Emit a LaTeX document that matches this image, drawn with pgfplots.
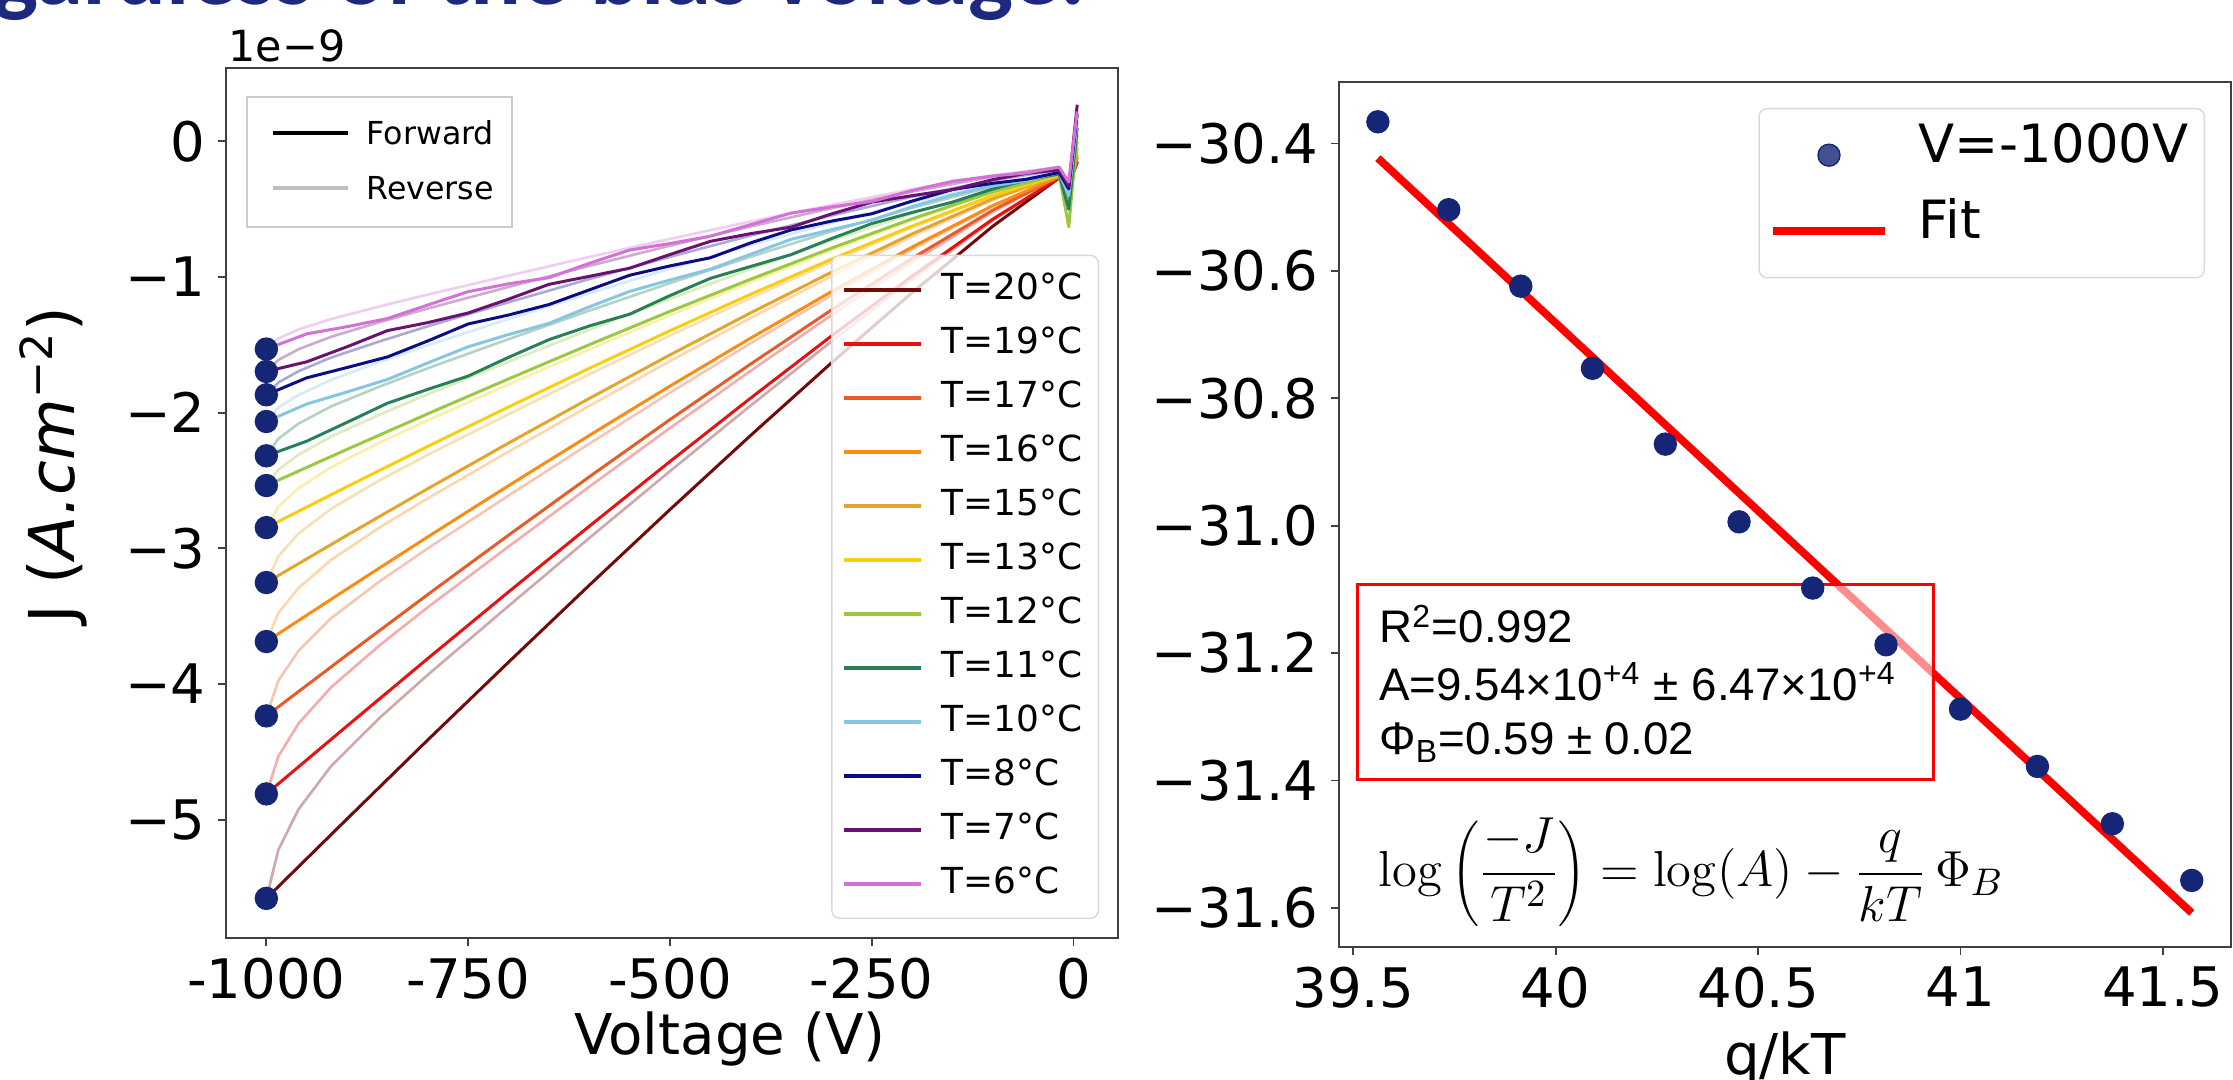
\documentclass[border=0pt]{standalone}
\usepackage[no-math]{fontspec}
\setmainfont{DejaVu Sans}
\newfontfamily\arialf{Liberation Sans}
\newfontfamily\titlef{Carlito}
\usepackage{pgfplots}
\usepackage{pgfplotstable}
\pgfplotsset{compat=1.18}

\definecolor{dotblue}{RGB}{22,38,118}
\definecolor{titleblue}{RGB}{30,40,125}
\definecolor{c20}{RGB}{115,10,10}
\definecolor{c19}{RGB}{228,18,18}
\definecolor{c17}{RGB}{228,92,40}
\definecolor{c16}{RGB}{250,140,20}
\definecolor{c15}{RGB}{228,165,45}
\definecolor{c13}{RGB}{250,205,15}
\definecolor{c12}{RGB}{155,200,65}
\definecolor{c11}{RGB}{40,128,88}
\definecolor{c10}{RGB}{135,198,225}
\definecolor{c8}{RGB}{12,12,135}
\definecolor{c7}{RGB}{105,18,112}
\definecolor{c6}{RGB}{212,112,215}

% forward sweeps, warmer temperatures
\pgfplotstableread{
V f20 f19 f17 f16 f15 f13 f12
-1000 -5.580 -4.810 -4.235 -3.687 -3.252 -2.847 -2.537
-900 -4.994 -4.309 -3.785 -3.299 -2.903 -2.545 -2.270
-800 -4.412 -3.812 -3.340 -2.915 -2.560 -2.248 -2.008
-700 -3.839 -3.321 -2.903 -2.538 -2.224 -1.958 -1.751
-600 -3.272 -2.837 -2.473 -2.168 -1.895 -1.673 -1.499
-500 -2.714 -2.360 -2.051 -1.804 -1.574 -1.396 -1.253
-400 -2.167 -1.892 -1.641 -1.450 -1.264 -1.127 -1.016
-300 -1.633 -1.435 -1.243 -1.108 -0.965 -0.869 -0.787
-200 -1.115 -0.993 -0.862 -0.779 -0.682 -0.624 -0.571
-100 -0.625 -0.573 -0.507 -0.473 -0.423 -0.399 -0.372
-18 -0.270 -0.270 -0.260 -0.260 -0.250 -0.250 -0.240
-6 -0.320 -0.340 -0.360 -0.380 -0.420 -0.500 -0.630
4.5 -0.150 -0.150 -0.120 -0.100 -0.050 0.000 0.050
}\fwdwarm

% forward sweeps, colder temperatures
\pgfplotstableread{
V f11 f10 f8 f7 f6
-1000 -2.318 -2.065 -1.868 -1.696 -1.531
-950 -2.210 -1.936 -1.743 -1.625 -1.419
-900 -2.071 -1.847 -1.667 -1.514 -1.366
-850 -1.930 -1.755 -1.589 -1.395 -1.306
-800 -1.828 -1.633 -1.471 -1.336 -1.206
-750 -1.730 -1.514 -1.346 -1.265 -1.108
-700 -1.592 -1.424 -1.280 -1.163 -1.050
-650 -1.462 -1.342 -1.203 -1.054 -1.005
-600 -1.361 -1.220 -1.095 -0.995 -0.899
-550 -1.274 -1.106 -0.987 -0.935 -0.801
-500 -1.137 -1.022 -0.918 -0.834 -0.753
-450 -1.010 -0.942 -0.858 -0.737 -0.699
-400 -0.922 -0.832 -0.748 -0.680 -0.614
-350 -0.835 -0.722 -0.653 -0.633 -0.529
-300 -0.717 -0.651 -0.588 -0.535 -0.483
-250 -0.606 -0.581 -0.534 -0.448 -0.443
-200 -0.524 -0.481 -0.440 -0.400 -0.362
-150 -0.448 -0.395 -0.355 -0.356 -0.294
-100 -0.351 -0.328 -0.309 -0.282 -0.255
-59 -0.286 -0.289 -0.280 -0.236 -0.233
-18 -0.240 -0.230 -0.230 -0.210 -0.190
-6 -0.500 -0.400 -0.350 -0.330 -0.300
4.5 0.100 0.150 0.200 0.270 0.220
}\fwdcold

% reverse sweeps
\pgfplotstableread{
V r20 r19 r17 r16 r15 r13 r12 r11 r10 r8 r7 r6
-1000 -5.580 -4.810 -4.235 -3.687 -3.252 -2.847 -2.537 -2.318 -2.065 -1.868 -1.696 -1.531
-985 -5.220 -4.531 -3.974 -3.475 -3.057 -2.692 -2.419 -2.191 -1.962 -1.777 -1.611 -1.453
-960 -4.922 -4.290 -3.754 -3.291 -2.890 -2.556 -2.309 -2.080 -1.869 -1.694 -1.532 -1.386
-920 -4.606 -4.025 -3.516 -3.086 -2.709 -2.402 -2.177 -1.954 -1.759 -1.594 -1.441 -1.310
-860 -4.251 -3.716 -3.245 -2.847 -2.499 -2.221 -2.015 -1.808 -1.625 -1.475 -1.333 -1.217
-800 -3.932 -3.434 -3.000 -2.631 -2.310 -2.056 -1.864 -1.672 -1.503 -1.363 -1.232 -1.129
-700 -3.425 -2.987 -2.611 -2.287 -2.011 -1.792 -1.624 -1.458 -1.309 -1.186 -1.073 -0.990
-600 -2.924 -2.546 -2.229 -1.950 -1.717 -1.534 -1.389 -1.248 -1.120 -1.015 -0.918 -0.852
-500 -2.431 -2.113 -1.853 -1.620 -1.432 -1.282 -1.160 -1.045 -0.939 -0.851 -0.769 -0.719
-400 -1.947 -1.691 -1.488 -1.301 -1.154 -1.038 -0.941 -0.850 -0.765 -0.694 -0.627 -0.591
-300 -1.475 -1.281 -1.135 -0.994 -0.888 -0.803 -0.731 -0.664 -0.601 -0.546 -0.493 -0.469
-200 -1.017 -0.888 -0.796 -0.701 -0.636 -0.582 -0.533 -0.490 -0.448 -0.408 -0.370 -0.354
-100 -0.583 -0.520 -0.480 -0.433 -0.404 -0.377 -0.355 -0.333 -0.313 -0.287 -0.260 -0.251
-18 -0.270 -0.260 -0.260 -0.250 -0.250 -0.240 -0.240 -0.230 -0.230 -0.210 -0.190 -0.190
}\revtab

% J at -1000 V for each temperature
\pgfplotstableread{
V J
-1000 -5.580
-1000 -4.810
-1000 -4.235
-1000 -3.687
-1000 -3.252
-1000 -2.847
-1000 -2.537
-1000 -2.318
-1000 -2.065
-1000 -1.868
-1000 -1.696
-1000 -1.531
}\dottab

% Arrhenius-type points at -1000 V
\pgfplotstableread{
x y
39.561 -30.366
39.736 -30.504
39.914 -30.624
40.091 -30.753
40.271 -30.872
40.453 -30.994
40.635 -31.098
40.816 -31.187
41.000 -31.288
41.190 -31.378
41.375 -31.468
41.571 -31.557
}\arrtab

\pgfplotsset{
  mplstyle/.style={
    scale only axis,
    tick align=outside, xtick pos=bottom, ytick pos=left,
    major tick length=0.8mm,
    tick style={black!75, line width=0.5pt},
    axis line style={black!75, line width=0.6pt},
    ticklabel style={font=\fontsize{15.5}{18}\selectfont},
  },
  fwd/.style={line width=0.85pt, line join=round},
  rev/.style={line width=0.75pt, draw opacity=0.35, line join=round, forget plot},
}

\begin{document}
\begin{tikzpicture}

% ---------------- left: J-V sweeps ----------------
\begin{axis}[mplstyle,
  at={(22.6mm,14.2mm)}, anchor=south west,
  width=89.2mm, height=87mm,
  xmin=-1050, xmax=55, ymin=-5.872, ymax=0.541,
  xtick={-1000,-750,-500,-250,0}, xticklabels={-1000,-750,-500,-250,0},
  ytick={-5,-4,-3,-2,-1,0}, yticklabels={−5,−4,−3,−2,−1,0},
  legend cell align=left,
  legend image code/.code={\draw[#1, line width=1.1pt] (0mm,0mm) -- (7.7mm,0mm);},
  legend style={at={(0.9787,0.0218)}, anchor=south east,
    draw=black!15, rounded corners=0.8mm, fill=white, fill opacity=0.8, text opacity=1,
    font=\fontsize{10.2}{12}\selectfont, inner xsep=1mm, inner ysep=1.2mm,
    row sep=0.9mm, column sep=1.3mm,
    nodes={inner sep=0.6mm, text height=2.6mm, text depth=0.7mm}},
]
\addplot[rev, c20] table[x=V, y=r20] {\revtab};
\addplot[rev, c19] table[x=V, y=r19] {\revtab};
\addplot[rev, c17] table[x=V, y=r17] {\revtab};
\addplot[rev, c16] table[x=V, y=r16] {\revtab};
\addplot[rev, c15] table[x=V, y=r15] {\revtab};
\addplot[rev, c13] table[x=V, y=r13] {\revtab};
\addplot[rev, c12] table[x=V, y=r12] {\revtab};
\addplot[rev, c11] table[x=V, y=r11] {\revtab};
\addplot[rev, c10] table[x=V, y=r10] {\revtab};
\addplot[rev, c8] table[x=V, y=r8] {\revtab};
\addplot[rev, c7] table[x=V, y=r7] {\revtab};
\addplot[rev, c6] table[x=V, y=r6] {\revtab};

\addplot[fwd, c20] table[x=V, y=f20] {\fwdwarm};
\addplot[fwd, c19] table[x=V, y=f19] {\fwdwarm};
\addplot[fwd, c17] table[x=V, y=f17] {\fwdwarm};
\addplot[fwd, c16] table[x=V, y=f16] {\fwdwarm};
\addplot[fwd, c15] table[x=V, y=f15] {\fwdwarm};
\addplot[fwd, c13] table[x=V, y=f13] {\fwdwarm};
\addplot[fwd, c12] table[x=V, y=f12] {\fwdwarm};
\addplot[fwd, c11] table[x=V, y=f11] {\fwdcold};
\addplot[fwd, c10] table[x=V, y=f10] {\fwdcold};
\addplot[fwd, c8] table[x=V, y=f8] {\fwdcold};
\addplot[fwd, c7] table[x=V, y=f7] {\fwdcold};
\addplot[fwd, c6] table[x=V, y=f6] {\fwdcold};

\addplot[only marks, mark=*, mark size=1.1mm, dotblue, forget plot] table[x=V, y=J] {\dottab};

\legend{T=20°C,T=19°C,T=17°C,T=16°C,T=15°C,T=13°C,T=12°C,T=11°C,T=10°C,T=8°C,T=7°C,T=6°C}
\end{axis}

% ---------------- right: log(J/T^2) vs q/kT ----------------
\begin{axis}[mplstyle,
  at={(133.9mm,13.33mm)}, anchor=south west,
  width=89.2mm, height=86.5mm,
  xmin=39.465, xmax=41.668, ymin=-31.661, ymax=-30.303,
  xtick={39.5,40,40.5,41,41.5}, xticklabels={39.5,40,40.5,41,41.5},
  ytick={-31.6,-31.4,-31.2,-31,-30.8,-30.6,-30.4},
  yticklabels={−31.6,−31.4,−31.2,−31.0,−30.8,−30.6,−30.4},
  legend cell align=left,
  legend image code/.code={\draw[mark repeat=2, mark phase=2, #1] plot coordinates {(0mm,0mm) (5.6mm,0mm) (11.2mm,0mm)};},
  legend style={at={(0.9709,0.9696)}, anchor=north east,
    draw=black!15, rounded corners=0.8mm, fill=white, fill opacity=0.8, text opacity=1,
    font=\fontsize{15}{18}\selectfont, inner xsep=1mm, inner ysep=0.9mm,
    row sep=0.1mm, column sep=2.4mm,
    nodes={inner sep=0.6mm, text height=3.9mm, text depth=2.4mm}},
]
\addplot[only marks, mark=*, mark size=1.1mm, dotblue] table[x=x, y=y] {\arrtab};
\addplot[red, line width=2.2pt] coordinates {(39.561,-30.423) (41.571,-31.608)};
\legend{V=-1000V,Fit}

\draw[red, line width=0.9pt, fill=white, fill opacity=0.55]
  (axis cs:39.511,-31.093) rectangle (axis cs:40.934,-31.398);
\node[anchor=base west, inner sep=0, font=\arialf\fontsize{13}{15}\selectfont]
  at (axis cs:39.563,-31.184) {R\textsuperscript{2}=0.992};
\node[anchor=base west, inner sep=0, font=\arialf\fontsize{13}{15}\selectfont]
  at (axis cs:39.563,-31.274) {A=9.54×10\textsuperscript{+4} ± 6.47×10\textsuperscript{+4}};
\node[anchor=base west, inner sep=0, font=\arialf\fontsize{13}{15}\selectfont]
  at (axis cs:39.563,-31.360) {Φ\textsubscript{B}=0.59 ± 0.02};
\node[anchor=base west, inner sep=0, font=\fontsize{15}{18}\selectfont]
  at (axis cs:39.561,-31.567)
  {$\displaystyle \log\left(\frac{-J}{T^2}\right) = \log(A) - \frac{q}{kT}\,\Phi_B$};
\end{axis}

% labels and the small Forward/Reverse key
\node[anchor=base west, inner sep=0, font=\fontsize{12.2}{14}\selectfont] at (22.8mm,101.8mm) {1e−9};
\node[rotate=90, inner sep=0, font=\fontsize{18}{21}\selectfont] at (5.3mm,61.5mm)
  {J (\textit{A.cm}\textsuperscript{−2})};
\node[anchor=base, inner sep=0, font=\fontsize{16}{19}\selectfont] at (73mm,2.5mm) {Voltage (V)};
\node[anchor=base, inner sep=0, font=\fontsize{16}{19}\selectfont] at (178.5mm,0.5mm) {q/kT};

\draw[black!20, line width=0.8pt, fill=white] (24.7mm,85.3mm) rectangle (51.2mm,98.3mm);
\draw[black, line width=1.1pt] (27.3mm,94.7mm) -- (34.8mm,94.7mm);
\draw[black!25, line width=1.1pt] (27.3mm,89.2mm) -- (34.8mm,89.2mm);
\node[anchor=base west, inner sep=0, font=\fontsize{9}{11}\selectfont] at (36.6mm,93.55mm) {Forward};
\node[anchor=base west, inner sep=0, font=\fontsize{9}{11}\selectfont] at (36.6mm,88.05mm) {Reverse};

% slide title, cut by the top edge
\begin{scope}
\clip (0,0) rectangle (223.3mm,108mm);
\node[anchor=base east, inner sep=0, text=titleblue, font=\titlef\bfseries\fontsize{27}{30}\selectfont]
  at (108.6mm,107.5mm) {Barrier height regardless of the bias voltage.};
\end{scope}

\pgfresetboundingbox
\path[use as bounding box] (0,0) rectangle (223.3mm,108mm);
\end{tikzpicture}
\end{document}
